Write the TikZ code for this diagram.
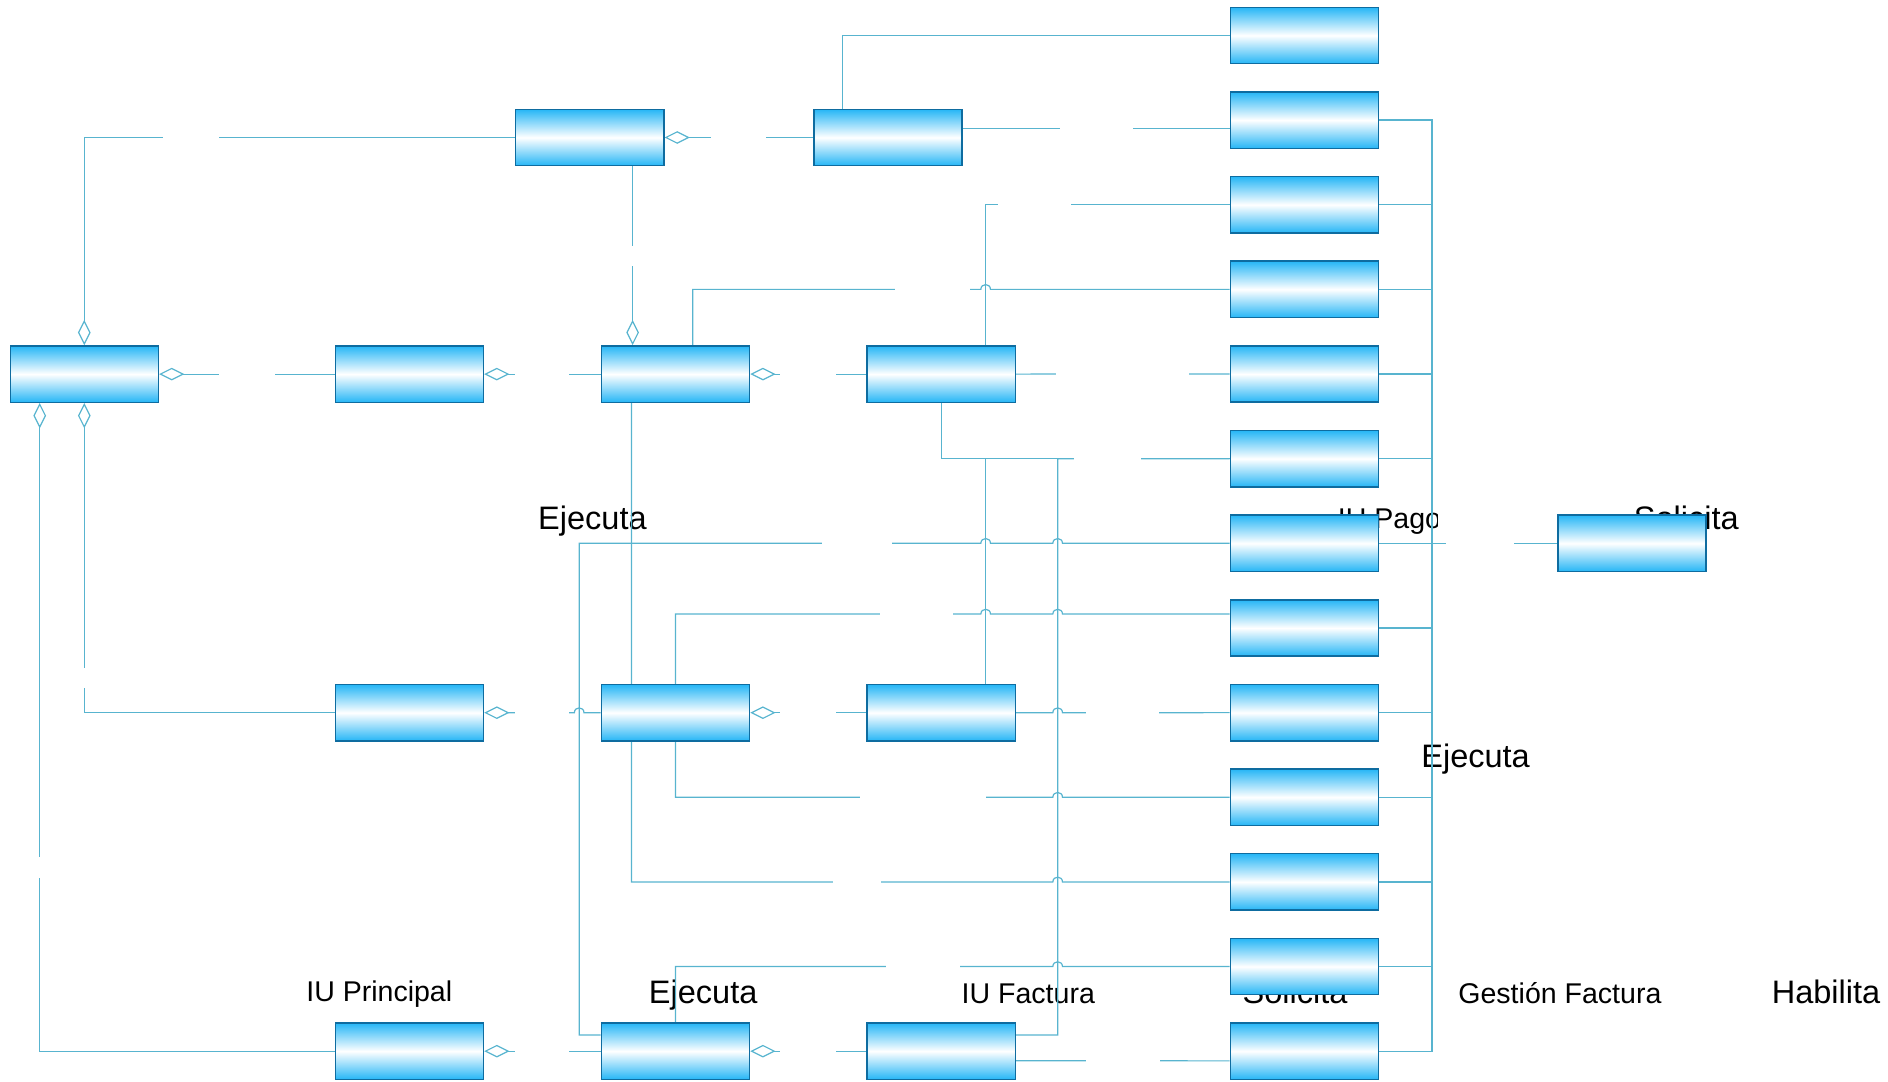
\documentclass[tikz,border=0pt]{standalone}
\usepackage{fontspec}
\setmainfont{Liberation Sans}
\usetikzlibrary{arrows.meta,calc}

\definecolor{boxblue}{RGB}{38,182,246}
\definecolor{boxedge}{RGB}{14,108,160}
\definecolor{wire}{RGB}{88,180,207}

\pgfdeclarelayer{txt}
\pgfdeclarelayer{wires}
\pgfsetlayers{txt,wires,main}

% a small bump where a horizontal line jumps over a vertical one
\newcommand\hop[2]{-- ({#1-4},#2) .. controls ({#1-4},{#2-5.3}) and ({#1+4},{#2-5.3}) .. ({#1+4},#2)}
% white break in a horizontal / vertical line
\newcommand\hgap[3]{\fill[white] (#1,{#3-4}) rectangle (#2,{#3+4});}
\newcommand\vgap[3]{\fill[white] ({#1-4},#2) rectangle ({#1+4},#3);}

\tikzset{
  cls/.style={draw=boxedge, line width=0.6pt, top color=boxblue, bottom color=boxblue,
    middle color=white, minimum width=61.5pt, minimum height=23.4pt, inner sep=0pt},
  conn/.style={draw=wire, line width=0.5pt},
  aggs/.style={conn, arrows={Diamond[open,length=10.5pt,width=5.25pt]-}},
  agge/.style={conn, arrows={-Diamond[open,length=10.5pt,width=5.25pt]}},
  cname/.style={inner sep=0pt, anchor=base, font=\fontsize{11.85}{14}\selectfont},
  verb/.style={inner sep=0pt, anchor=base, font=\fontsize{13.5}{16}\selectfont},
}

\begin{document}
\begin{tikzpicture}[x=0.5pt, y=-0.5pt]
\useasboundingbox (0,0) rectangle (1568,898);

% classes
\node[cls] (T1) at (489.8,114.2) {};
\node[cls] (T2) at (737.5,114.2) {};
\node[cls] (A) at (70,310.7) {};
\node[cls] (B) at (340,310.7) {};
\node[cls] (C) at (561,310.7) {};
\node[cls] (D) at (781.7,310.7) {};
\node[cls] (E) at (340,591.9) {};
\node[cls] (F) at (561,591.9) {};
\node[cls] (G) at (781.7,591.9) {};
\node[cls] (H) at (340,873) {};
\node[cls] (I) at (561,873) {};
\node[cls] (J) at (781.7,873) {};
\foreach \k in {1,...,13}
  \node[cls] (R\k) at (1083.2,{29.45+70.3*(\k-1)}) {};
\node[cls] (P) at (1355.5,451.25) {};

% labels
\begin{pgfonlayer}{txt}
\node[verb] (l1) at (492,440) {Ejecuta};
\node[cname] (l2) at (1154,439) {IU Pago};
\fill[white] (1194,410) rectangle (1257,446);
\node[verb] (l3) at (1400.5,440) {Solicita};
\node[verb] (l4) at (1225.5,637) {Ejecuta};
\node[cname] (l5) at (315,832) {IU Principal};
\node[verb] (l6) at (584,833) {Ejecuta};
\node[cname] (l7) at (854,833) {IU Factura};
\node[verb] (l8) at (1075.5,833) {Solicita};
\node[cname] (l9) at (1295.5,833) {Gestión Factura};
\node[verb] (l10) at (1516.5,833) {Habilita};
\end{pgfonlayer}

\begin{pgfonlayer}{wires}
% aggregations
\draw[aggs] (A.north) |- (T1.west);
\draw[agge] ($(T1.south)+(35.6,0)$) -- ($(C.north)+(-35.6,0)$);
\draw[aggs] (T1.east) -- (T2.west);
\draw[aggs] (A.east) -- (B.west);
\draw[aggs] (B.east) -- (C.west);
\draw[aggs] (C.east) -- (D.west);
\draw[aggs] (E.east) \hop{481}{591.9} -- (F.west);
\draw[aggs] (F.east) -- (G.west);
\draw[aggs] (H.east) -- (I.west);
\draw[aggs] (I.east) -- (J.west);
\draw[aggs] (A.south) |- (E.west);
\draw[aggs] ($(A.south)+(-37,0)$) |- (H.west);

% associations
\draw[conn] ($(T2.north)+(-37.5,0)$) |- (R1.west);
\draw[conn] ($(T2.east)+(0,-7.3)$) -- ($(R2.west)+(0,7.15)$);
\draw[conn] ($(D.north)+(36.9,0)$) |- (R3.west);
\draw[conn] ($(C.north)+(14.4,0)$) -- (575.4,240.35) \hop{818.6}{240.35} -- (R4.west);
\draw[conn] (D.east) -- (R5.west);
\draw[conn] (D.south) |- (R6.west);
\draw[conn] ($(G.north)+(36.9,0)$) |- (R6.west);
\draw[conn] ($(J.east)+(0,-13.4)$) -| (878.4,380.95) -- (R6.west);
\draw[conn] ($(I.west)+(0,-13.4)$) -| (481,451.25) \hop{818.6}{451.25} \hop{878.4}{451.25} -- (R7.west);
\draw[conn] (F.north) -- (561,510) \hop{818.6}{510} \hop{878.4}{510} -- ($(R8.west)+(0,-11.55)$);
\draw[conn] (G.east) \hop{878.4}{591.9} -- (R9.west);
\draw[conn] (F.south) -- (561,662.15) \hop{878.4}{662.15} -- (R10.west);
\draw[conn] ($(C.south)+(-36.6,0)$) -- (524.4,732.45) \hop{878.4}{732.45} -- (R11.west);
\draw[conn] (I.north) -- (561,802.75) \hop{878.4}{802.75} -- (R12.west);
\draw[conn] ($(J.east)+(0,8)$) -- ($(R13.west)+(0,8)$);
\draw[conn] (R7.east) -- (P.west);

% right-hand bus
\draw[conn] (R2.east) -- ++(43.9,0) coordinate (busT) -- (busT |- R13.east) -- (R13.east);
\foreach \k in {3,...,12}
  \draw[conn] (R\k.east) -- ++(43.9,0);

% breaks in the lines
\hgap{135.3}{182}{114.2}
\vgap{525.4}{204}{221}
\hgap{590.5}{636}{114.2}
\hgap{880}{941}{106.9}
\hgap{828.6}{889.5}{170.05}
\hgap{743.7}{805.3}{240.35}
\hgap{182}{228}{310.7}
\hgap{427.5}{472.7}{310.7}
\hgap{647.5}{694}{310.7}
\hgap{876.7}{987.4}{310.7}
\hgap{892}{948}{380.95}
\hgap{683}{740.6}{451.25}
\hgap{1201}{1257}{451.25}
\hgap{731}{791.5}{510}
\hgap{427.5}{472.7}{591.9}
\hgap{647.5}{694}{591.9}
\hgap{901.7}{962.6}{591.9}
\hgap{714}{819}{662.15}
\hgap{692}{732}{732.45}
\hgap{736}{797}{802.75}
\hgap{427.5}{472.7}{873}
\hgap{647.5}{694}{873}
\hgap{902}{963}{881}
\vgap{70}{554.5}{571.4}
\vgap{33}{712}{729.5}
\end{pgfonlayer}
\end{tikzpicture}
\end{document}
